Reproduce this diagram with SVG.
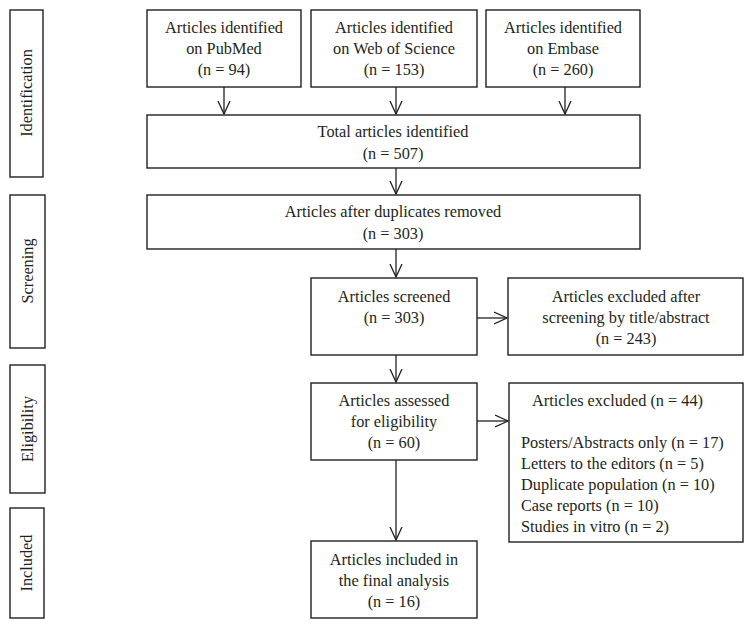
<svg xmlns="http://www.w3.org/2000/svg" width="754" height="629" viewBox="0 0 754 629">
<style>
rect{fill:#fff;stroke:#231f20;stroke-width:1.4}
text{font-family:"Liberation Serif","Times New Roman",serif;font-size:16.3px;fill:#231f20}
.c{text-anchor:middle}
.conn line{stroke:#231f20;stroke-width:1.3}
</style>
<defs>
<marker id="ah" viewBox="0 0 14 14" refX="13" refY="7" markerWidth="14" markerHeight="14" markerUnits="userSpaceOnUse" orient="auto">
<path d="M0,1 L13,7 L0,13" fill="none" stroke="#231f20" stroke-width="1.3"/>
</marker>
</defs>
<rect width="754" height="629" style="fill:#fff;stroke:none"/>
<g id="stage-identification"><rect x="10" y="10" width="33" height="167"/><text class="c" transform="translate(32,93) rotate(-90)">Identification</text></g>
<g id="stage-screening"><rect x="10" y="195" width="35" height="153"/><text class="c" transform="translate(33,271) rotate(-90)">Screening</text></g>
<g id="stage-eligibility"><rect x="10" y="365" width="35" height="128"/><text class="c" transform="translate(33,429) rotate(-90)">Eligibility</text></g>
<g id="stage-included"><rect x="10" y="508" width="34" height="110"/><text class="c" transform="translate(32,563) rotate(-90)">Included</text></g>

<g id="pubmed"><rect x="147" y="10" width="154" height="77"/><text class="c" x="224" y="33">Articles identified</text><text class="c" x="224" y="54">on PubMed</text><text class="c" x="224" y="75">(n = 94)</text></g>
<g id="wos"><rect x="311" y="10" width="166" height="77"/><text class="c" x="394" y="33">Articles identified</text><text class="c" x="394" y="54">on Web of Science</text><text class="c" x="394" y="75">(n = 153)</text></g>
<g id="embase"><rect x="486" y="10" width="154" height="77"/><text class="c" x="563" y="33">Articles identified</text><text class="c" x="563" y="54">on Embase</text><text class="c" x="563" y="75">(n = 260)</text></g>
<g id="total"><rect x="147" y="115" width="493" height="53"/><text class="c" x="393" y="137">Total articles identified</text><text class="c" x="393" y="159">(n = 507)</text></g>
<g id="dedup"><rect x="147" y="195" width="493" height="54"/><text class="c" x="393" y="217">Articles after duplicates removed</text><text class="c" x="393" y="239">(n = 303)</text></g>
<g id="screened"><rect x="311" y="278" width="166" height="77"/><text class="c" x="394" y="302">Articles screened</text><text class="c" x="394" y="323">(n = 303)</text></g>
<g id="excluded-screen"><rect x="508" y="278" width="235" height="77"/><text class="c" x="626" y="302">Articles excluded after</text><text class="c" x="626" y="323">screening by title/abstract</text><text class="c" x="626" y="344">(n = 243)</text></g>
<g id="assessed"><rect x="311" y="383" width="166" height="77"/><text class="c" x="394" y="406">Articles assessed</text><text class="c" x="394" y="427">for eligibility</text><text class="c" x="394" y="448">(n = 60)</text></g>
<g id="excluded-elig"><rect x="509" y="383" width="234" height="159"/><text x="532" y="406">Articles excluded (n = 44)</text><text x="521" y="448">Posters/Abstracts only (n = 17)</text><text x="521" y="469">Letters to the editors (n = 5)</text><text x="521" y="490">Duplicate population (n = 10)</text><text x="521" y="511">Case reports (n = 10)</text><text x="521" y="532">Studies in vitro (n = 2)</text></g>
<g id="included"><rect x="311" y="541" width="166" height="77"/><text class="c" x="394" y="565">Articles included in</text><text class="c" x="394" y="586">the final analysis</text><text class="c" x="394" y="607">(n = 16)</text></g>

<g id="connectors" class="conn">
<line x1="224" y1="87" x2="224" y2="114" marker-end="url(#ah)"/>
<line x1="396" y1="87" x2="396" y2="114" marker-end="url(#ah)"/>
<line x1="565" y1="87" x2="565" y2="114" marker-end="url(#ah)"/>
<line x1="396" y1="168" x2="396" y2="194" marker-end="url(#ah)"/>
<line x1="396" y1="249" x2="396" y2="277" marker-end="url(#ah)"/>
<line x1="477" y1="318" x2="507" y2="318" marker-end="url(#ah)"/>
<line x1="396" y1="355" x2="396" y2="382" marker-end="url(#ah)"/>
<line x1="477" y1="421" x2="508" y2="421" marker-end="url(#ah)"/>
<line x1="396" y1="460" x2="396" y2="540" marker-end="url(#ah)"/>
</g>
</svg>
